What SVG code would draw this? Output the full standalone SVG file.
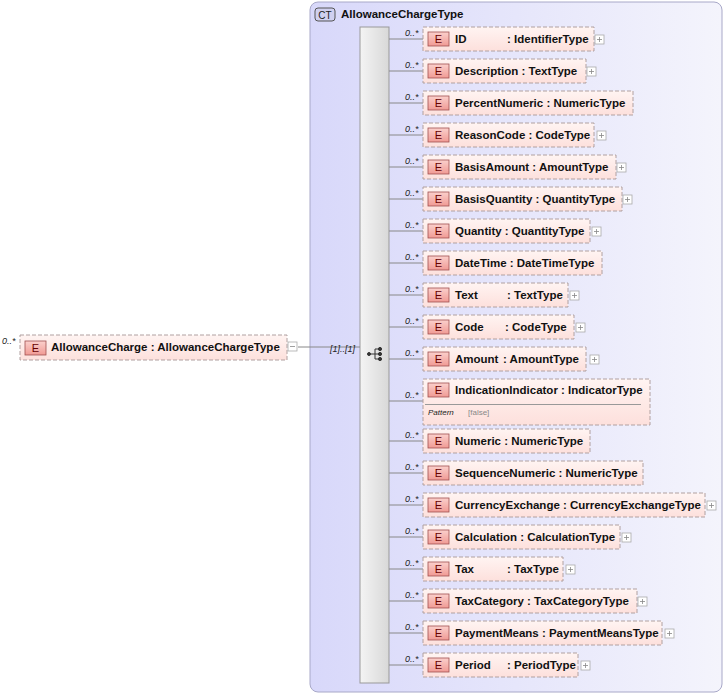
<svg xmlns="http://www.w3.org/2000/svg" width="725" height="696" viewBox="0 0 725 696">
<defs>
<linearGradient id="eg" x1="0" y1="0" x2="0" y2="1"><stop offset="0" stop-color="#fff4f2"/><stop offset="1" stop-color="#fde0dc"/></linearGradient>
<linearGradient id="bg" x1="0" y1="0" x2="0" y2="1"><stop offset="0" stop-color="#fbd0cc"/><stop offset="1" stop-color="#f09a94"/></linearGradient>
<linearGradient id="sg" x1="0" y1="0" x2="1" y2="0"><stop offset="0" stop-color="#f4f4f4"/><stop offset="1" stop-color="#d8d8d8"/></linearGradient>
<linearGradient id="ctg" x1="0" y1="0" x2="1" y2="0"><stop offset="0" stop-color="#d8d8fa"/><stop offset="1" stop-color="#f4f4fc"/></linearGradient>
<g id="plus"><rect x="0" y="-5" width="9" height="9" fill="#fff" stroke="#aaa" stroke-width="0.8"/><path d="M2 -0.5h5M4.5 -3v5" stroke="#888" stroke-width="0.8"/></g>
</defs>
<style>
.box{fill:url(#eg);stroke:#b0a0a0;stroke-dasharray:4,2;stroke-width:1}
.badge{fill:url(#bg);stroke:#a05050;stroke-width:0.8}
.t{font-family:"Liberation Sans",Arial,sans-serif;font-size:11.5px;font-weight:bold;fill:#111}
.bt{font-family:"Liberation Sans",Arial,sans-serif;font-size:11px;fill:#600}
.m{font-family:"Liberation Sans",Arial,sans-serif;font-size:9px;font-style:italic;fill:#222}
.ln{stroke:#888;stroke-width:1;fill:none}
</style>
<g id="ct">
<rect x="310" y="2" width="412" height="690" rx="8" fill="url(#ctg)" stroke="#a8a8c8"/>
<rect x="315" y="8" width="20" height="13" rx="3" fill="#d0d0f0" stroke="#555"/>
<text x="325" y="18.5" text-anchor="middle" style="font-family:'Liberation Sans',Arial,sans-serif;font-size:10px;fill:#222">CT</text>
<text x="341" y="18" class="t">AllowanceChargeType</text>
</g>
<g id="seq">
<rect x="360" y="27" width="29" height="656" fill="url(#sg)" stroke="#999"/>
<g fill="#333" stroke="#333">
<circle cx="369" cy="354" r="1.5"/><path d="M370 354h5M375 349v10M375 349h4M375 354h4M375 359h4" fill="none"/>
<circle cx="380" cy="349" r="1.6"/><circle cx="380" cy="354" r="1.6"/><circle cx="380" cy="359" r="1.6"/>
</g>
</g>
<g id="connectors">
<path class="ln" d="M298 347H360"/>
<text x="330" y="352" class="m">[1]..[1]</text>
<path class="ln" d="M389 39H423M389 71H423M389 103H423M389 135H423M389 167H423M389 199H423M389 231H423M389 263H423M389 295H423M389 327H423M389 359H423M389 401H423M389 441H423M389 473H423M389 505H423M389 537H423M389 569H423M389 601H423M389 633H423M389 665H423"/>
<g class="m">
<text x="405" y="36">0..*</text><text x="405" y="68">0..*</text><text x="405" y="100">0..*</text><text x="405" y="132">0..*</text><text x="405" y="164">0..*</text><text x="405" y="196">0..*</text><text x="405" y="228">0..*</text><text x="405" y="260">0..*</text><text x="405" y="292">0..*</text><text x="405" y="324">0..*</text><text x="405" y="356">0..*</text><text x="405" y="398">0..*</text><text x="405" y="438">0..*</text><text x="405" y="470">0..*</text><text x="405" y="502">0..*</text><text x="405" y="534">0..*</text><text x="405" y="566">0..*</text><text x="405" y="598">0..*</text><text x="405" y="630">0..*</text><text x="405" y="662">0..*</text>
</g>
</g>
<g id="AllowanceCharge">
<text x="2" y="344" class="m">0..*</text>
<rect class="box" x="20" y="335" width="267" height="25"/>
<rect class="badge" x="25" y="341" width="21" height="14"/><text x="35.5" y="352" text-anchor="middle" class="bt">E</text>
<text x="51" y="351" class="t">AllowanceCharge : AllowanceChargeType</text>
<rect x="288" y="342" width="9" height="9" fill="#fff" stroke="#aaa" stroke-width="0.8"/><path d="M290 346.5h5" stroke="#888" stroke-width="0.8"/>
</g>
<g id="ID"><rect class="box" x="423" y="27" width="171" height="24"/><rect class="badge" x="428" y="32" width="21" height="14"/><text x="438.5" y="43" text-anchor="middle" class="bt">E</text><text x="455" y="43" class="t">ID</text><text x="507" y="43" class="t">: IdentifierType</text><use href="#plus" x="595" y="40"/></g>
<g id="Description"><rect class="box" x="423" y="59" width="163" height="24"/><rect class="badge" x="428" y="64" width="21" height="14"/><text x="438.5" y="75" text-anchor="middle" class="bt">E</text><text x="455" y="75" class="t">Description : TextType</text><use href="#plus" x="587" y="72"/></g>
<g id="PercentNumeric"><rect class="box" x="423" y="91" width="210" height="24"/><rect class="badge" x="428" y="96" width="21" height="14"/><text x="438.5" y="107" text-anchor="middle" class="bt">E</text><text x="455" y="107" class="t">PercentNumeric : NumericType</text></g>
<g id="ReasonCode"><rect class="box" x="423" y="123" width="171" height="24"/><rect class="badge" x="428" y="128" width="21" height="14"/><text x="438.5" y="139" text-anchor="middle" class="bt">E</text><text x="455" y="139" class="t">ReasonCode : CodeType</text><use href="#plus" x="597" y="136"/></g>
<g id="BasisAmount"><rect class="box" x="423" y="155" width="193" height="24"/><rect class="badge" x="428" y="160" width="21" height="14"/><text x="438.5" y="171" text-anchor="middle" class="bt">E</text><text x="455" y="171" class="t">BasisAmount : AmountType</text><use href="#plus" x="617" y="168"/></g>
<g id="BasisQuantity"><rect class="box" x="423" y="187" width="199" height="24"/><rect class="badge" x="428" y="192" width="21" height="14"/><text x="438.5" y="203" text-anchor="middle" class="bt">E</text><text x="455" y="203" class="t">BasisQuantity : QuantityType</text><use href="#plus" x="623" y="200"/></g>
<g id="Quantity"><rect class="box" x="423" y="219" width="167" height="24"/><rect class="badge" x="428" y="224" width="21" height="14"/><text x="438.5" y="235" text-anchor="middle" class="bt">E</text><text x="455" y="235" class="t">Quantity : QuantityType</text><use href="#plus" x="592" y="232"/></g>
<g id="DateTime"><rect class="box" x="423" y="251" width="179" height="24"/><rect class="badge" x="428" y="256" width="21" height="14"/><text x="438.5" y="267" text-anchor="middle" class="bt">E</text><text x="455" y="267" class="t">DateTime : DateTimeType</text></g>
<g id="Text"><rect class="box" x="423" y="283" width="145" height="24"/><rect class="badge" x="428" y="288" width="21" height="14"/><text x="438.5" y="299" text-anchor="middle" class="bt">E</text><text x="455" y="299" class="t">Text</text><text x="507" y="299" class="t">: TextType</text><use href="#plus" x="570" y="296"/></g>
<g id="Code"><rect class="box" x="423" y="315" width="151" height="24"/><rect class="badge" x="428" y="320" width="21" height="14"/><text x="438.5" y="331" text-anchor="middle" class="bt">E</text><text x="455" y="331" class="t">Code</text><text x="505" y="331" class="t">: CodeType</text><use href="#plus" x="576" y="328"/></g>
<g id="Amount"><rect class="box" x="423" y="347" width="163" height="24"/><rect class="badge" x="428" y="352" width="21" height="14"/><text x="438.5" y="363" text-anchor="middle" class="bt">E</text><text x="455" y="363" class="t">Amount</text><text x="503" y="363" class="t">: AmountType</text><use href="#plus" x="590" y="360"/></g>
<g id="IndicationIndicator"><rect class="box" x="423" y="379" width="227" height="46"/><rect class="badge" x="428" y="383" width="21" height="14"/><text x="438.5" y="394" text-anchor="middle" class="bt">E</text><text x="455" y="394" class="t">IndicationIndicator : IndicatorType</text><path d="M425 404.5H641" stroke="#999"/><text x="428" y="415" style="font-family:'Liberation Sans',Arial,sans-serif;font-size:8px;font-style:italic;fill:#222">Pattern</text><text x="468" y="415" style="font-family:'Liberation Sans',Arial,sans-serif;font-size:8px;fill:#888">[false]</text></g>
<g id="Numeric"><rect class="box" x="423" y="429" width="167" height="24"/><rect class="badge" x="428" y="434" width="21" height="14"/><text x="438.5" y="445" text-anchor="middle" class="bt">E</text><text x="455" y="445" class="t">Numeric : NumericType</text></g>
<g id="SequenceNumeric"><rect class="box" x="423" y="461" width="220" height="24"/><rect class="badge" x="428" y="466" width="21" height="14"/><text x="438.5" y="477" text-anchor="middle" class="bt">E</text><text x="455" y="477" class="t">SequenceNumeric : NumericType</text></g>
<g id="CurrencyExchange"><rect class="box" x="423" y="493" width="282" height="24"/><rect class="badge" x="428" y="498" width="21" height="14"/><text x="438.5" y="509" text-anchor="middle" class="bt">E</text><text x="455" y="509" class="t">CurrencyExchange : CurrencyExchangeType</text><use href="#plus" x="707" y="506"/></g>
<g id="Calculation"><rect class="box" x="423" y="525" width="197" height="24"/><rect class="badge" x="428" y="530" width="21" height="14"/><text x="438.5" y="541" text-anchor="middle" class="bt">E</text><text x="455" y="541" class="t">Calculation : CalculationType</text><use href="#plus" x="622" y="538"/></g>
<g id="Tax"><rect class="box" x="423" y="557" width="140" height="24"/><rect class="badge" x="428" y="562" width="21" height="14"/><text x="438.5" y="573" text-anchor="middle" class="bt">E</text><text x="455" y="573" class="t">Tax</text><text x="507" y="573" class="t">: TaxType</text><use href="#plus" x="566" y="570"/></g>
<g id="TaxCategory"><rect class="box" x="423" y="589" width="214" height="24"/><rect class="badge" x="428" y="594" width="21" height="14"/><text x="438.5" y="605" text-anchor="middle" class="bt">E</text><text x="455" y="605" class="t">TaxCategory : TaxCategoryType</text><use href="#plus" x="638" y="602"/></g>
<g id="PaymentMeans"><rect class="box" x="423" y="621" width="239" height="24"/><rect class="badge" x="428" y="626" width="21" height="14"/><text x="438.5" y="637" text-anchor="middle" class="bt">E</text><text x="455" y="637" class="t">PaymentMeans : PaymentMeansType</text><use href="#plus" x="665" y="634"/></g>
<g id="Period"><rect class="box" x="423" y="653" width="155" height="24"/><rect class="badge" x="428" y="658" width="21" height="14"/><text x="438.5" y="669" text-anchor="middle" class="bt">E</text><text x="455" y="669" class="t">Period</text><text x="507" y="669" class="t">: PeriodType</text><use href="#plus" x="581" y="666"/></g>
</svg>
